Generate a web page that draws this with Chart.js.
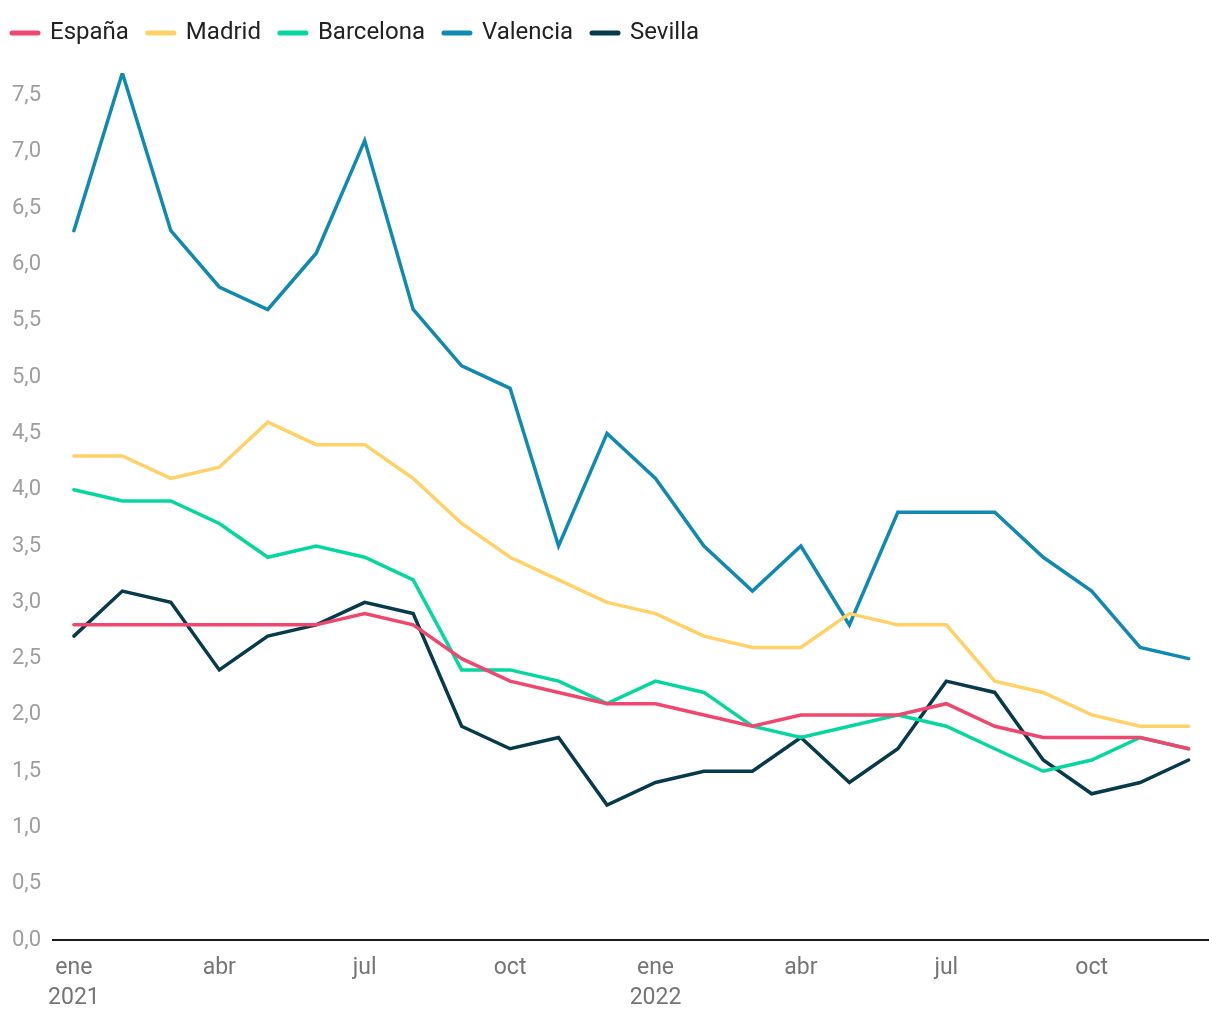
<!DOCTYPE html>
<html>
<head>
<meta charset="utf-8">
<script src="https://cdn.jsdelivr.net/npm/chart.js@4"></script>
<style>
  html, body { margin: 0; padding: 0; background: #fff; }
  #wrap { width: 1220px; height: 1020px; }
</style>
</head>
<body>
<div id="wrap"><canvas id="paroChart"></canvas></div>
<script>
// Meses (ene 2021 - dic 2022)
const meses = ['ene', 'feb', 'mar', 'abr', 'may', 'jun', 'jul', 'ago', 'sep', 'oct', 'nov', 'dic',
               'ene', 'feb', 'mar', 'abr', 'may', 'jun', 'jul', 'ago', 'sep', 'oct', 'nov', 'dic'];
const anios = ['2021', '', '', '', '', '', '', '', '', '', '', '',
               '2022', '', '', '', '', '', '', '', '', '', '', ''];
const mesesConEtiqueta = [0, 3, 6, 9, 12, 15, 18, 21];

const espana    = [2.8, 2.8, 2.8, 2.8, 2.8, 2.8, 2.9, 2.8, 2.5, 2.3, 2.2, 2.1, 2.1, 2.0, 1.9, 2.0, 2.0, 2.0, 2.1, 1.9, 1.8, 1.8, 1.8, 1.7];
const madrid    = [4.3, 4.3, 4.1, 4.2, 4.6, 4.4, 4.4, 4.1, 3.7, 3.4, 3.2, 3.0, 2.9, 2.7, 2.6, 2.6, 2.9, 2.8, 2.8, 2.3, 2.2, 2.0, 1.9, 1.9];
const barcelona = [4.0, 3.9, 3.9, 3.7, 3.4, 3.5, 3.4, 3.2, 2.4, 2.4, 2.3, 2.1, 2.3, 2.2, 1.9, 1.8, 1.9, 2.0, 1.9, 1.7, 1.5, 1.6, 1.8, 1.7];
const valencia  = [6.3, 7.7, 6.3, 5.8, 5.6, 6.1, 7.1, 5.6, 5.1, 4.9, 3.5, 4.5, 4.1, 3.5, 3.1, 3.5, 2.8, 3.8, 3.8, 3.8, 3.4, 3.1, 2.6, 2.5];
const sevilla   = [2.7, 3.1, 3.0, 2.4, 2.7, 2.8, 3.0, 2.9, 1.9, 1.7, 1.8, 1.2, 1.4, 1.5, 1.5, 1.8, 1.4, 1.7, 2.3, 2.2, 1.6, 1.3, 1.4, 1.6];

const yTicks = [0, 0.5, 1, 1.5, 2, 2.5, 3, 3.5, 4, 4.5, 5, 5.5, 6, 6.5, 7, 7.5];

const series = [
  { label: 'España',    data: espana,    color: '#ef476f' },
  { label: 'Madrid',    data: madrid,    color: '#ffd166' },
  { label: 'Barcelona', data: barcelona, color: '#06d6a0' },
  { label: 'Valencia',  data: valencia,  color: '#118ab2' },
  { label: 'Sevilla',   data: sevilla,   color: '#073b4c' }
];

function toPoints(values) {
  return values.map((v, i) => ({ x: i, y: v }));
}

// Espacio extra bajo la leyenda y leyenda pegada al borde izquierdo
const legendMargin = {
  id: 'legendMargin',
  beforeInit(chart) {
    const fit = chart.legend.fit;
    chart.legend.fit = function() {
      fit.bind(chart.legend)();
      this.height += 18;
    };
  },
  afterLayout(chart) {
    chart.legend.left -= 7;
  }
};

const ctx = document.getElementById('paroChart').getContext('2d');

new Chart(ctx, {
  type: 'line',
  data: {
    datasets: series.map(s => ({
      label: s.label,
      data: toPoints(s.data),
      borderColor: s.color,
      backgroundColor: s.color,
      borderWidth: 3.5,
      pointRadius: 0,
      tension: 0,
      borderCapStyle: 'round',
      borderJoinStyle: 'miter'
    }))
  },
  options: {
    responsive: true,
    maintainAspectRatio: false,
    animation: false,
    layout: { padding: { left: 0, right: 12, top: 2, bottom: -6 } },
    plugins: {
      legend: {
        position: 'top',
        align: 'start',
        labels: {
          usePointStyle: true,
          pointStyle: 'line',
          pointStyleWidth: 26,
          padding: 19,
          color: '#222',
          font: { family: 'Roboto', size: 24 },
          generateLabels: function(chart) {
            const items = Chart.defaults.plugins.legend.labels.generateLabels(chart);
            items.forEach(it => { it.lineWidth = 5; it.lineCap = 'round'; });
            return items;
          }
        }
      },
      tooltip: { enabled: false }
    },
    scales: {
      x: {
        type: 'linear',
        min: -0.43,
        max: 23.4,
        afterBuildTicks: function(axis) {
          axis.ticks = mesesConEtiqueta.map(v => ({ value: v }));
        },
        grid: { display: false, drawTicks: false },
        border: { display: true, color: '#1a1a1a', width: 2 },
        ticks: {
          padding: 13,
          maxRotation: 0,
          autoSkip: false,
          color: '#757575',
          font: { family: 'Roboto', size: 23, lineHeight: 1.3 },
          callback: function(value) {
            const i = Math.round(value);
            return anios[i] ? [meses[i], anios[i]] : meses[i];
          }
        }
      },
      y: {
        min: 0,
        max: 7.7,
        afterBuildTicks: function(axis) {
          axis.ticks = yTicks.map(v => ({ value: v }));
        },
        grid: { display: false, drawTicks: false },
        border: { display: false },
        ticks: {
          padding: 12,
          color: '#9e9e9e',
          font: { family: 'Roboto', size: 22 },
          callback: v => v.toFixed(1).replace('.', ',')
        }
      }
    }
  },
  plugins: [legendMargin]
});
</script>
</body>
</html>
